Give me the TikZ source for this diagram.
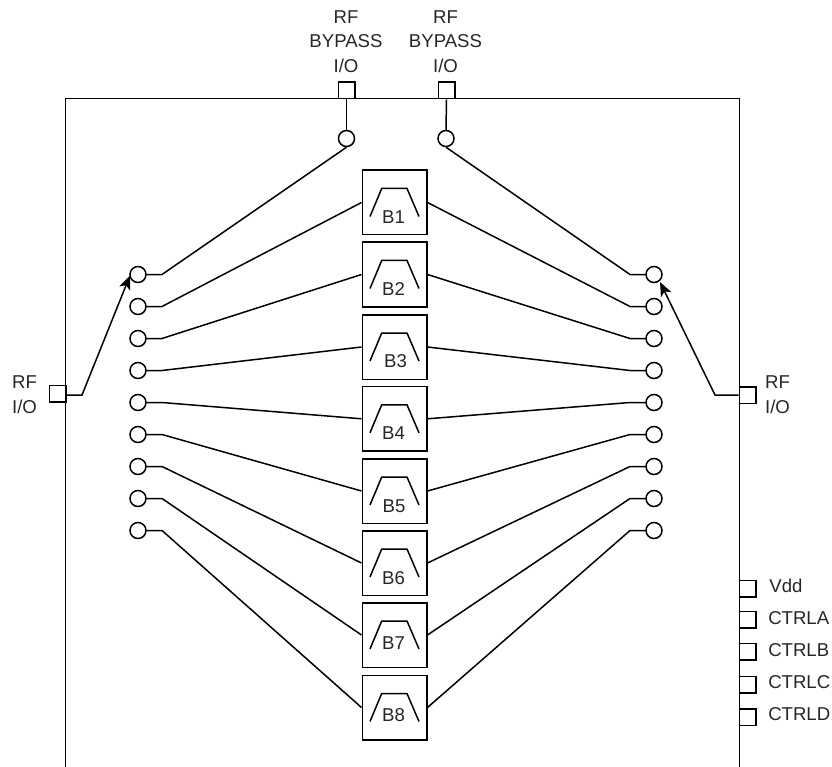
\documentclass[tikz,border=0pt]{standalone}
\usepackage{fontspec}
\setmainfont{Liberation Sans}
\usetikzlibrary{arrows.meta}
\begin{document}
\begin{tikzpicture}[x=1pt,y=-1pt,line width=1.5pt,line join=miter,
  term/.style={draw,circle,minimum size=16pt,inner sep=0pt,fill=white},
  port/.style={draw,rectangle,minimum size=16.5pt,inner sep=0pt,fill=white},
  filterbox/.style={draw,rectangle,minimum size=64.5pt,inner sep=0pt},
  lbl/.style={font=\fontsize{18.6}{24.5}\selectfont,text=black!85,inner sep=0pt,align=center},
  tip/.style={-{Stealth[length=14pt,width=11.5pt,inset=3.5pt]}}]
\useasboundingbox (0,0) rectangle (832,767);
% package outline
\coordinate (bl) at (65.5,767);
\coordinate (tl) at (65.5,98.5);
\coordinate (tr) at (739.5,98.5);
\coordinate (br) at (739.5,767);
\draw (bl) -- (tl) -- (tr) -- (br);
% filters and their terminals
\foreach \n/\fy/\lx/\ld in {1/202.5/393.5/14.5,2/274.5/393.5/15,3/347/395.5/14,4/418.8/393.5/14.5,5/491/394/15,6/563/393.5/15,7/635/393.5/8,8/707.5/393.5/8}{
  \node[filterbox] (F\n) at (394.5,\fy) {};
  \draw (370,\fy+14) -- (381.7,\fy-14) -- (407,\fy-14) -- (419,\fy+14);
  \node[lbl] (FL\n) at (\lx,\fy+\ld) {B\n};
}
\foreach \i/\y in {0/274.5,1/306.5,2/338.5,3/370.5,4/402.5,5/434.5,6/466.5,7/498.5,8/530.5}{
  \node[term] (L\i) at (138,\y) {};
  \node[term] (R\i) at (654,\y) {};
  \coordinate (LK\i) at (162,\y);
  \coordinate (RK\i) at (630,\y);
}
% filter connections
\foreach \n in {1,...,8}{
  \draw (F\n.west) -- (LK\n) -- (L\n.east);
  \draw (F\n.east) -- (RK\n) -- (R\n.west);
}
% bypass
\node[port] (PT1) at (346.5,90.5) {};
\node[port] (PT2) at (446.5,90.5) {};
\node[term] (TC1) at (346.5,138.5) {};
\node[term] (TC2) at (446,138.5) {};
\draw (PT1.south) -- (TC1.north);
\draw (PT2.south) -- (TC2.north);
\draw (TC1.south) -- (LK0) -- (L0.east);
\draw (TC2.south) -- (RK0) -- (R0.west);
\node[lbl] (TL1) at (346,41.5) {RF\\BYPASS\\I/O};
\node[lbl] (TL2) at (445.5,41.5) {RF\\BYPASS\\I/O};
% RF I/O
\node[port] (PL) at (57.5,393.5) {};
\node[port] (PR) at (747.5,395) {};
\coordinate (KL) at (82,395);
\coordinate (KR) at (715,395);
\coordinate (AL) at (130,275.5);
\coordinate (AR) at (660,282);
\draw[tip] (PL.east |- KL) -- (KL) -- (AL);
\draw[tip] (PR.west |- KR) -- (KR) -- (AR);
\node[lbl] (RL) at (24.5,394.5) {RF\hspace{5pt}\\I/O};
\node[lbl] (RR) at (777.5,394.5) {RF\hspace{5pt}\\I/O};
% control pins
\foreach \n/\y in {a/588.5,b/619.5,c/651.5,d/684.5,e/717}{
  \node[port] (C\n) at (747.5,\y) {};
}
\node[lbl] (VL) at (786,586) {Vdd};
\foreach \n/\y/\t in {a/618/CTRLA,b/650/CTRLB,c/682/CTRLC,d/714/CTRLD}{
  \node[lbl,anchor=west] (T\n) at (767.5,\y) {\t};
}
\end{tikzpicture}
\end{document}
